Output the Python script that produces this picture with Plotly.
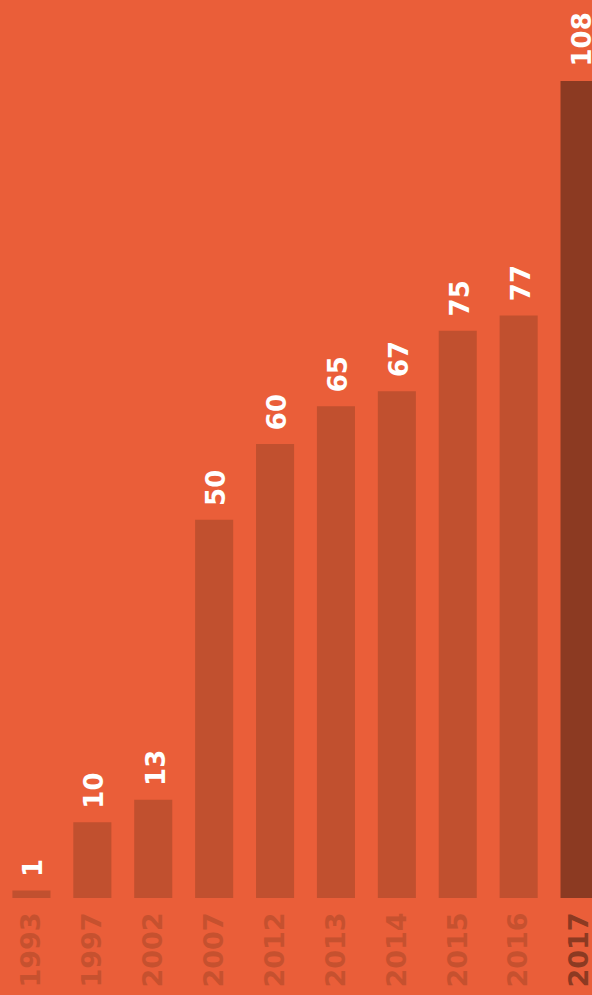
import plotly.graph_objects as go

years = ["1993", "1997", "2002", "2007", "2012", "2013", "2014", "2015", "2016", "2017"]
values = [1, 10, 13, 50, 60, 65, 67, 75, 77, 108]
bar_colors = ["#C1502F"] * 9 + ["#8C3A22"]
tick_colors = ["#C6512F"] * 9 + ["#8C3A22"]

BG = "#EA5E39"
FONT = "DejaVu Sans"

fig = go.Figure()
fig.add_trace(go.Bar(
    x=list(range(len(years))), y=values,
    marker=dict(color=bar_colors, line=dict(width=0)),
    width=0.625, hoverinfo="skip",
))

annotations = []
for i, v in enumerate(values):
    annotations.append(dict(
        x=i, y=v, xref="x", yref="y", text=f"<b>{v}</b>", showarrow=False,
        textangle=-90, xanchor="center", yanchor="bottom", yshift=12, xshift=2,
        font=dict(family=FONT, size=26, color="white"),
    ))
annotations.append(dict(
    x=-0.03, y=0.962, xref="paper", yref="paper", text="<b>5</b>", showarrow=False,
    textangle=-90, xanchor="center", yanchor="middle",
    font=dict(family=FONT, size=26, color="white"),
))

x0 = -0.5 - 1 / 60.9
fig.update_layout(
    width=592, height=995,
    margin=dict(l=0, r=0, t=0, b=97, autoexpand=False),
    paper_bgcolor=BG, plot_bgcolor=BG,
    showlegend=False,
    annotations=annotations,
    xaxis=dict(
        range=[x0, x0 + 592 / 60.9],
        automargin=False,
        tickmode="array", tickvals=list(range(len(years))),
        ticktext=[f'<span style="color:{c}"><b>{y}</b></span>' for y, c in zip(years, tick_colors)],
        tickangle=-90, tickfont=dict(family=FONT, size=27, color="#C6512F"),
        ticklabeloverflow="allow", ticklabelstandoff=8,
        showgrid=False, zeroline=False, showline=False, ticks="", ticklen=0,
    ),
    yaxis=dict(range=[0, 898 / 7.565], visible=False, showgrid=False, zeroline=False,
               automargin=False),
)

fig.write_html("out.html")
